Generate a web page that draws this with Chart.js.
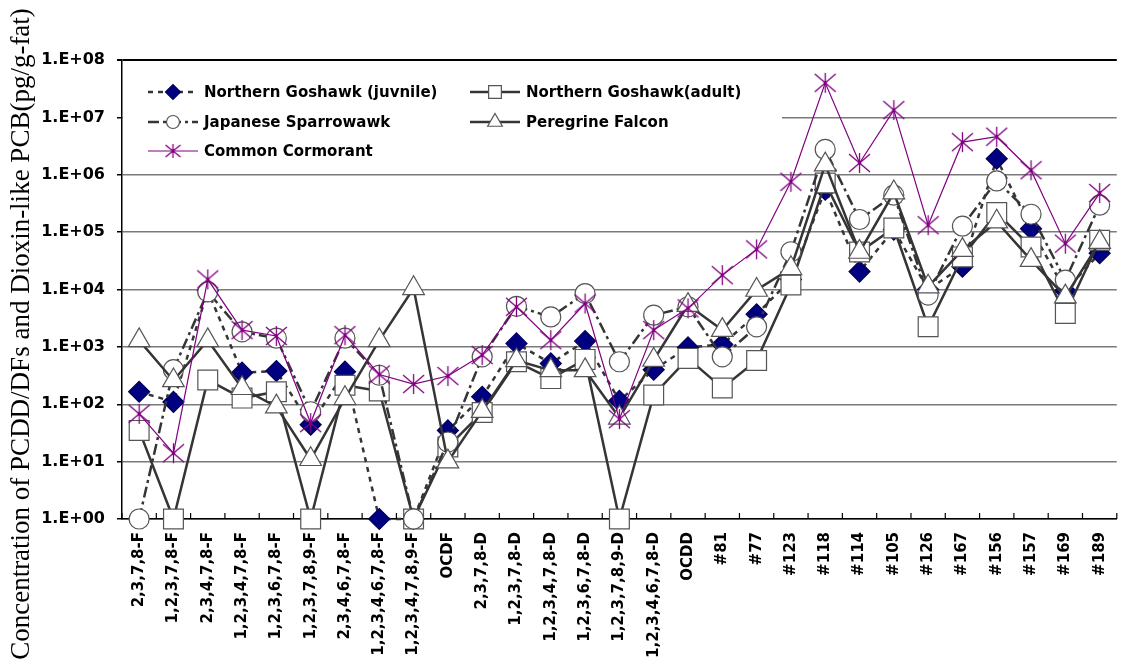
<!DOCTYPE html>
<html>
<head>
<meta charset="utf-8">
<script src="https://cdn.jsdelivr.net/npm/chart.js@4.4.0/dist/chart.umd.min.js"></script>
<style>
html, body { margin: 0; padding: 0; background: #fff; overflow: hidden; }
#wrap { width: 1132px; height: 669px; }
</style>
</head>
<body>
<div id="wrap"><canvas id="myChart" width="1132" height="669"></canvas></div>
<script>
// congeners on the x axis
var congeners = ['2,3,7,8-F', '1,2,3,7,8-F', '2,3,4,7,8-F', '1,2,3,4,7,8-F', '1,2,3,6,7,8-F',
    '1,2,3,7,8,9-F', '2,3,4,6,7,8-F', '1,2,3,4,6,7,8-F', '1,2,3,4,7,8,9-F', 'OCDF',
    '2,3,7,8-D', '1,2,3,7,8-D', '1,2,3,4,7,8-D', '1,2,3,6,7,8-D', '1,2,3,7,8,9-D',
    '1,2,3,4,6,7,8-D', 'OCDD', '#81', '#77', '#123', '#118', '#114', '#105', '#126',
    '#167', '#156', '#157', '#169', '#189'];

var tickValues = [1, 10, 100, 1e3, 1e4, 1e5, 1e6, 1e7, 1e8];
var tickLabels = ['1.E+00', '1.E+01', '1.E+02', '1.E+03', '1.E+04', '1.E+05', '1.E+06', '1.E+07', '1.E+08'];
var yTitle = 'Concentration of PCDD/DFs and Dioxin-like PCB(pg/g-fat)';

// pg/g-fat
var goshawkJuv = [165, 110, 9500, 355, 380, 44, 370, 1, 1, 35, 135, 1150, 515, 1260, 115, 400, 980,
    1100, 3700, 15000, 550000, 20500, 110000, 10000, 25000, 1900000, 115000, 9500, 43000];
var goshawkAdult = [35, 1, 265, 128, 165, 1, 215, 170, 1, 18, 72, 550, 280, 605, 1, 145, 630,
    192, 580, 12000, 720000, 45000, 118000, 2240, 37000, 219000, 55000, 3830, 72000];
var sparrowhawk = [1, 400, 9100, 1830, 1420, 74, 1420, 320, 1, 22, 670, 5100, 3330, 8500, 550, 3570, 5000,
    670, 2240, 45500, 2760000, 166000, 440000, 8000, 127000, 780000, 205000, 14600, 295000];
var peregrine = [1300, 260, 1300, 190, 91, 11, 127, 1300, 10500, 10, 76, 580, 390, 390, 58, 590, 5350,
    1960, 9800, 23400, 1500000, 45000, 490000, 11200, 48600, 152000, 32500, 7500, 67000];
var cormorant = [68, 14, 15000, 1960, 1550, 47, 1600, 330, 225, 310, 720, 5000, 1310, 5700, 55, 1960, 4700,
    17800, 50000, 755000, 40000000, 1600000, 13400000, 132000, 3700000, 4600000, 1200000, 63000, 480000];

var seriesNames = ['Northern Goshawk (juvnile)', 'Northern Goshawk(adult)', 'Japanese Sparrowawk',
    'Peregrine Falcon', 'Common Cormorant'];

// excel-like star marker (X plus vertical bar)
function makeStar(w, h) {
    var c = document.createElement('canvas');
    c.width = w; c.height = h;
    var g = c.getContext('2d');
    var cx = w / 2, cy = h / 2;
    g.strokeStyle = '#800080';
    g.lineWidth = 1.3;
    g.beginPath();
    g.moveTo(cx, 1); g.lineTo(cx, h - 1);
    g.moveTo(1, 2); g.lineTo(w - 1, h - 2);
    g.moveTo(w - 1, 2); g.lineTo(1, h - 2);
    g.stroke();
    g.fillStyle = '#800080';
    g.beginPath(); g.arc(cx, cy, 1.8, 0, Math.PI * 2); g.fill();
    return c;
}
var starBig = makeStar(23, 22);
var starSmall = makeStar(17, 16);

var darkLine = '#353535';

// legend drawn in a white box inside the plot
var boxLegend = {
    id: 'boxLegend',
    beforeDatasetsDraw: function(chart) {
        var ctx = chart.ctx;
        ctx.save();
        ctx.fillStyle = '#fff';
        ctx.fillRect(123, 63, 659, 104);
        var cols = [148, 470];
        var rows = [92, 122, 151];
        var legendSize = [7.5, 9, 6.5, 8.5, 0];
        chart.data.datasets.forEach(function(ds, i) {
            var x = cols[i % 2], y = rows[Math.floor(i / 2)];
            ctx.strokeStyle = ds.borderColor;
            ctx.lineWidth = ds.borderWidth;
            ctx.setLineDash(ds.borderDash || []);
            ctx.beginPath();
            ctx.moveTo(x, y); ctx.lineTo(x + 50, y);
            ctx.stroke();
            ctx.setLineDash([]);
            ctx.fillStyle = ds.pointBackgroundColor;
            ctx.strokeStyle = ds.pointBorderColor;
            ctx.lineWidth = 1.2;
            Chart.helpers.drawPoint(ctx, {
                pointStyle: i === 4 ? starSmall : ds.pointStyle,
                radius: legendSize[i], rotation: 0, borderWidth: 1.2
            }, x + 25, y);
            ctx.fillStyle = '#000';
            ctx.font = 'bold 15px "DejaVu Sans"';
            ctx.textBaseline = 'middle';
            ctx.fillText(ds.label, x + 56, y + 1);
        });
        ctx.restore();
    }
};

// y title and the small inward ticks on the x axis
var axisExtras = {
    id: 'axisExtras',
    afterDraw: function(chart) {
        var ctx = chart.ctx;
        var xs = chart.scales.x;
        var area = chart.chartArea;
        ctx.save();
        ctx.strokeStyle = '#000';
        ctx.lineWidth = 1.2;
        ctx.beginPath();
        for (var i = 0; i <= congeners.length; i++) {
            var px = xs.getPixelForValue(i - 0.5);
            ctx.moveTo(px, area.bottom);
            ctx.lineTo(px, area.bottom - 6);
        }
        ctx.stroke();
        ctx.translate(22, 334);
        ctx.rotate(-Math.PI / 2);
        ctx.fillStyle = '#000';
        ctx.font = '27px "Liberation Serif"';
        ctx.textAlign = 'center';
        ctx.textBaseline = 'middle';
        ctx.fillText(yTitle, 0, 0);
        ctx.restore();
    }
};

var common = { borderWidth: 2.5, pointBorderWidth: 1.2, clip: false, tension: 0 };

var ctx = document.getElementById('myChart').getContext('2d');
var myChart = new Chart(ctx, {
    type: 'line',
    data: {
        labels: congeners,
        datasets: [
            //juvenile goshawk
            Object.assign({
                label: seriesNames[0], data: goshawkJuv, order: 5,
                borderColor: darkLine, borderDash: [5, 5],
                pointStyle: 'rectRot', pointRadius: 10.5,
                pointBackgroundColor: '#000080', pointBorderColor: '#00005a'
            }, common),
            //adult goshawk
            Object.assign({
                label: seriesNames[1], data: goshawkAdult, order: 4,
                borderColor: darkLine,
                pointStyle: 'rect', pointRadius: 14,
                pointBackgroundColor: '#fff', pointBorderColor: '#555'
            }, common),
            //sparrowhawk
            Object.assign({
                label: seriesNames[2], data: sparrowhawk, order: 3,
                borderColor: darkLine, borderDash: [11, 4, 3, 4],
                pointStyle: 'circle', pointRadius: 10,
                pointBackgroundColor: '#fff', pointBorderColor: '#555'
            }, common),
            //peregrine
            Object.assign({
                label: seriesNames[3], data: peregrine, order: 2,
                borderColor: darkLine,
                pointStyle: 'triangle', pointRadius: 12.5,
                pointBackgroundColor: '#fff', pointBorderColor: '#555'
            }, common),
            //cormorant
            Object.assign({}, common, {
                label: seriesNames[4], data: cormorant, order: 1,
                borderColor: '#800080', borderWidth: 1.2,
                pointStyle: starBig, pointRadius: 11,
                pointBackgroundColor: '#800080', pointBorderColor: '#800080'
            })
        ]
    },
    options: {
        responsive: false,
        animation: false,
        events: [],
        layout: { padding: { top: 60, left: 0, right: 0, bottom: 0 } },
        plugins: { legend: { display: false }, tooltip: { enabled: false } },
        scales: {
            x: {
                offset: true,
                grid: { display: false, drawTicks: false },
                border: { color: '#000', width: 1.5 },
                ticks: {
                    autoSkip: false, minRotation: 90, maxRotation: 90, padding: 13,
                    color: '#000', font: { family: 'DejaVu Sans', weight: 'bold', size: 15 }
                },
                afterFit: function(s) { s.height = 150; }
            },
            y: {
                type: 'logarithmic',
                min: 1,
                max: 1e8,
                afterBuildTicks: function(s) {
                    s.ticks = tickValues.map(function(v) { return { value: v }; });
                },
                ticks: {
                    padding: 12, color: '#000',
                    font: { family: 'DejaVu Sans', weight: 'bold', size: 16 },
                    callback: function(v) { return tickLabels[tickValues.indexOf(v)]; }
                },
                grid: {
                    color: function(c) { return c.tick && c.tick.value === 1e8 ? '#000' : '#7a7a7a'; },
                    lineWidth: function(c) { return c.tick && c.tick.value === 1e8 ? 2 : 1.5; },
                    tickColor: '#000', tickLength: 5
                },
                border: { color: '#000', width: 1.5 },
                afterFit: function(s) { s.width = 122; }
            }
        }
    },
    plugins: [boxLegend, axisExtras]
});
</script>
</body>
</html>
